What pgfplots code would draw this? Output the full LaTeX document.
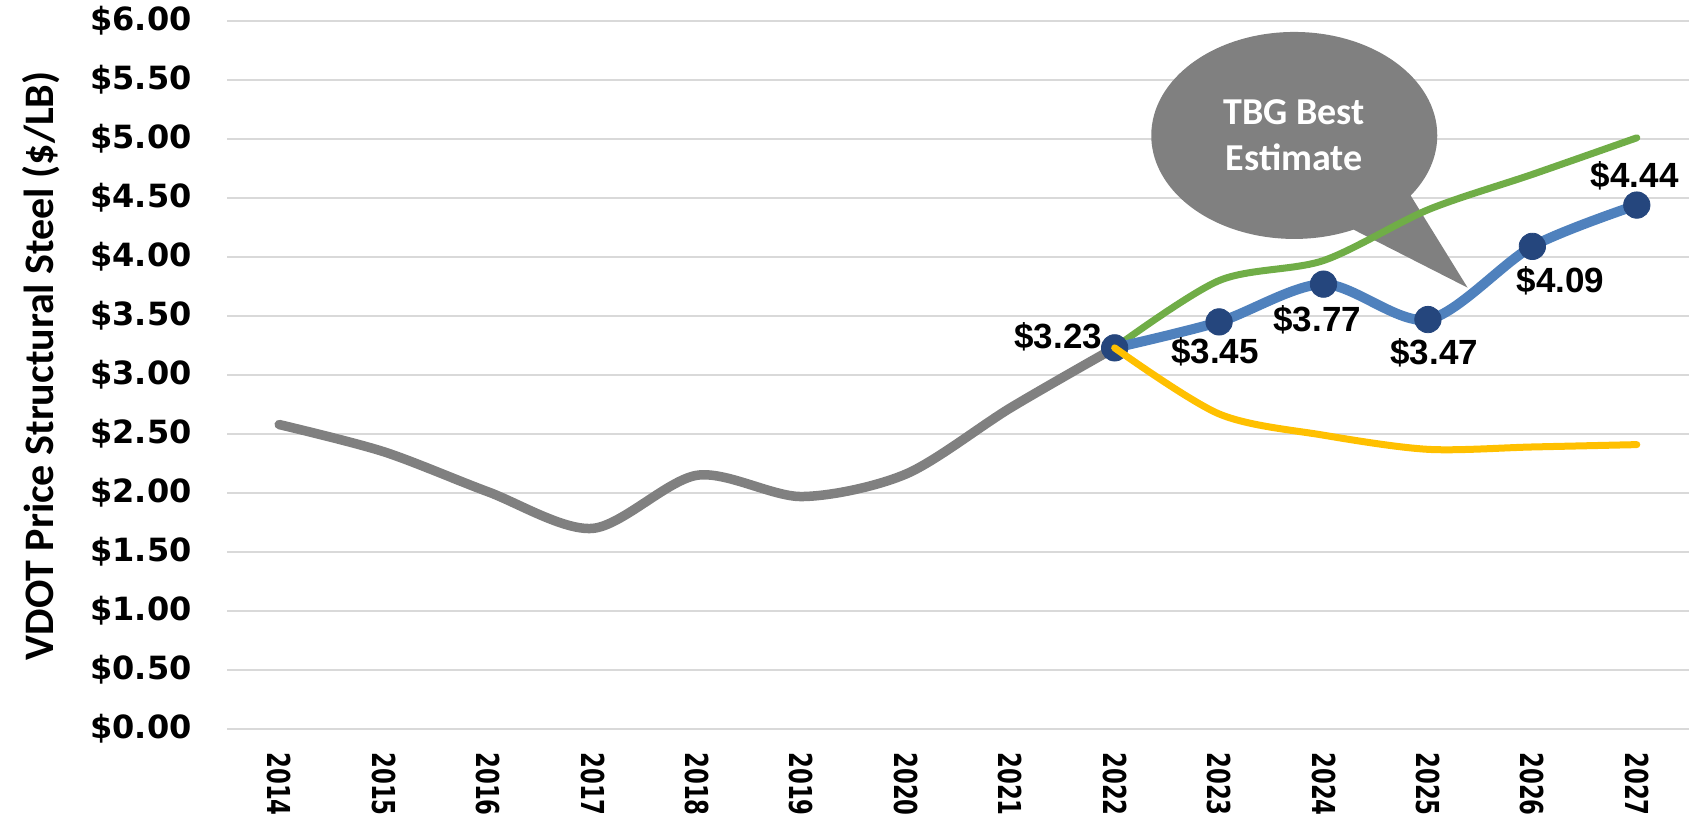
\documentclass[border=0pt]{standalone}
\usepackage{fontspec}
\setmainfont{Liberation Sans}
\newfontfamily\tickfont{DejaVu Sans}
\newfontfamily\xtickfont[FakeStretch=0.72]{DejaVu Sans}
\newfontfamily\calibri{Carlito}
\usepackage{pgfplots}
\pgfplotsset{compat=1.18}
\usetikzlibrary{shapes.callouts}

\definecolor{histgray}{HTML}{808080}
\definecolor{hiline}{HTML}{70AD47}
\definecolor{loline}{HTML}{FFC000}
\definecolor{bestline}{HTML}{4F81BD}
\definecolor{bestmark}{HTML}{25467D}
\definecolor{gridgray}{HTML}{D9D9D9}

\begin{document}
\begin{tikzpicture}
\begin{axis}[
    set layers=standard,
    scale only axis,
    width=731pt, height=354pt,
    xmin=2013.5, xmax=2027.5,
    ymin=0, ymax=6,
    clip=false,
    axis line style={draw=none},
    major tick length=0pt,
    ymajorgrids,
    grid style={color=gridgray, line width=1pt},
    xtick={2014,2015,2016,2017,2018,2019,2020,2021,2022,2023,2024,2025,2026,2027},
    xticklabels={2014,2015,2016,2017,2018,2019,2020,2021,2022,2023,2024,2025,2026,2027},
    ytick={0,0.5,1,1.5,2,2.5,3,3.5,4,4.5,5,5.5,6},
    yticklabels={\$0.00,\$0.50,\$1.00,\$1.50,\$2.00,\$2.50,\$3.00,\$3.50,\$4.00,\$4.50,\$5.00,\$5.50,\$6.00},
    yticklabel style={font=\tickfont\bfseries\fontsize{16}{16}\selectfont, anchor=east, inner sep=0pt, xshift=-17.5pt},
    xticklabel style={font=\xtickfont\bfseries\fontsize{15.8}{16}\selectfont, yshift=-11.5pt, rotate=-90, anchor=west, inner sep=0pt},
    ylabel={VDOT Price Structural Steel (\$/LB)},
    ylabel style={font=\calibri\bfseries\fontsize{21}{25}\selectfont, at={(axis description cs:-0.127,0.513)}, anchor=center},
  ]
  % callout sits under the lines
  \node[ellipse callout, fill=histgray, draw=none, inner sep=0pt,
        minimum width=143pt, minimum height=103.5pt,
        callout pointer arc=30,
        callout absolute pointer={(axis cs:2025.38,3.74)},
        align=center, text=white,
        font=\calibri\bfseries\fontsize{19}{23}\selectfont]
        at (axis cs:2023.72,5.03) {TBG Best\\Estimate};

  % history
  \addplot[histgray, line width=4.75pt, smooth, line cap=round, line join=round] coordinates {
      (2014,2.58) (2015,2.35) (2016,2.01) (2017,1.70) (2018,2.15)
      (2019,1.97) (2020,2.16) (2021,2.72) (2022,3.23)
    };
  % high
  \addplot[hiline, line width=3.5pt, smooth, line cap=round] coordinates {
      (2022,3.23) (2023,3.80) (2024,3.97) (2025,4.40) (2026,4.70) (2027,5.01)
    };
  % best estimate
  \addplot[bestline, line width=5pt, smooth, line cap=round,
           mark=*, mark size=6.6pt,
           mark options={fill=bestmark, draw=bestmark, line width=0.4pt}] coordinates {
      (2022,3.23) (2023,3.45) (2024,3.77) (2025,3.47) (2026,4.09) (2027,4.44)
    };
  % low, drawn over the 2022 marker
  \addplot[loline, line width=3.5pt, smooth, line cap=round, on layer=axis foreground] coordinates {
      (2022,3.23) (2023,2.67) (2024,2.49) (2025,2.37) (2026,2.39) (2027,2.41)
    };

  \begin{scope}[every node/.style={font=\bfseries\fontsize{17.5}{18}\selectfont}]
    \node at (axis cs:2021.46,3.32) {\$3.23};
    \node at (axis cs:2022.96,3.20) {\$3.45};
    \node at (axis cs:2023.94,3.47) {\$3.77};
    \node at (axis cs:2025.06,3.19) {\$3.47};
    \node at (axis cs:2026.27,3.80) {\$4.09};
    \node at (axis cs:2026.98,4.69) {\$4.44};
  \end{scope}
\end{axis}
\pgfresetboundingbox
\path ([shift={(-113.5pt,-45pt)}]current axis.south west) rectangle ([shift={(1pt,10.5pt)}]current axis.north east);
\end{tikzpicture}
\end{document}
